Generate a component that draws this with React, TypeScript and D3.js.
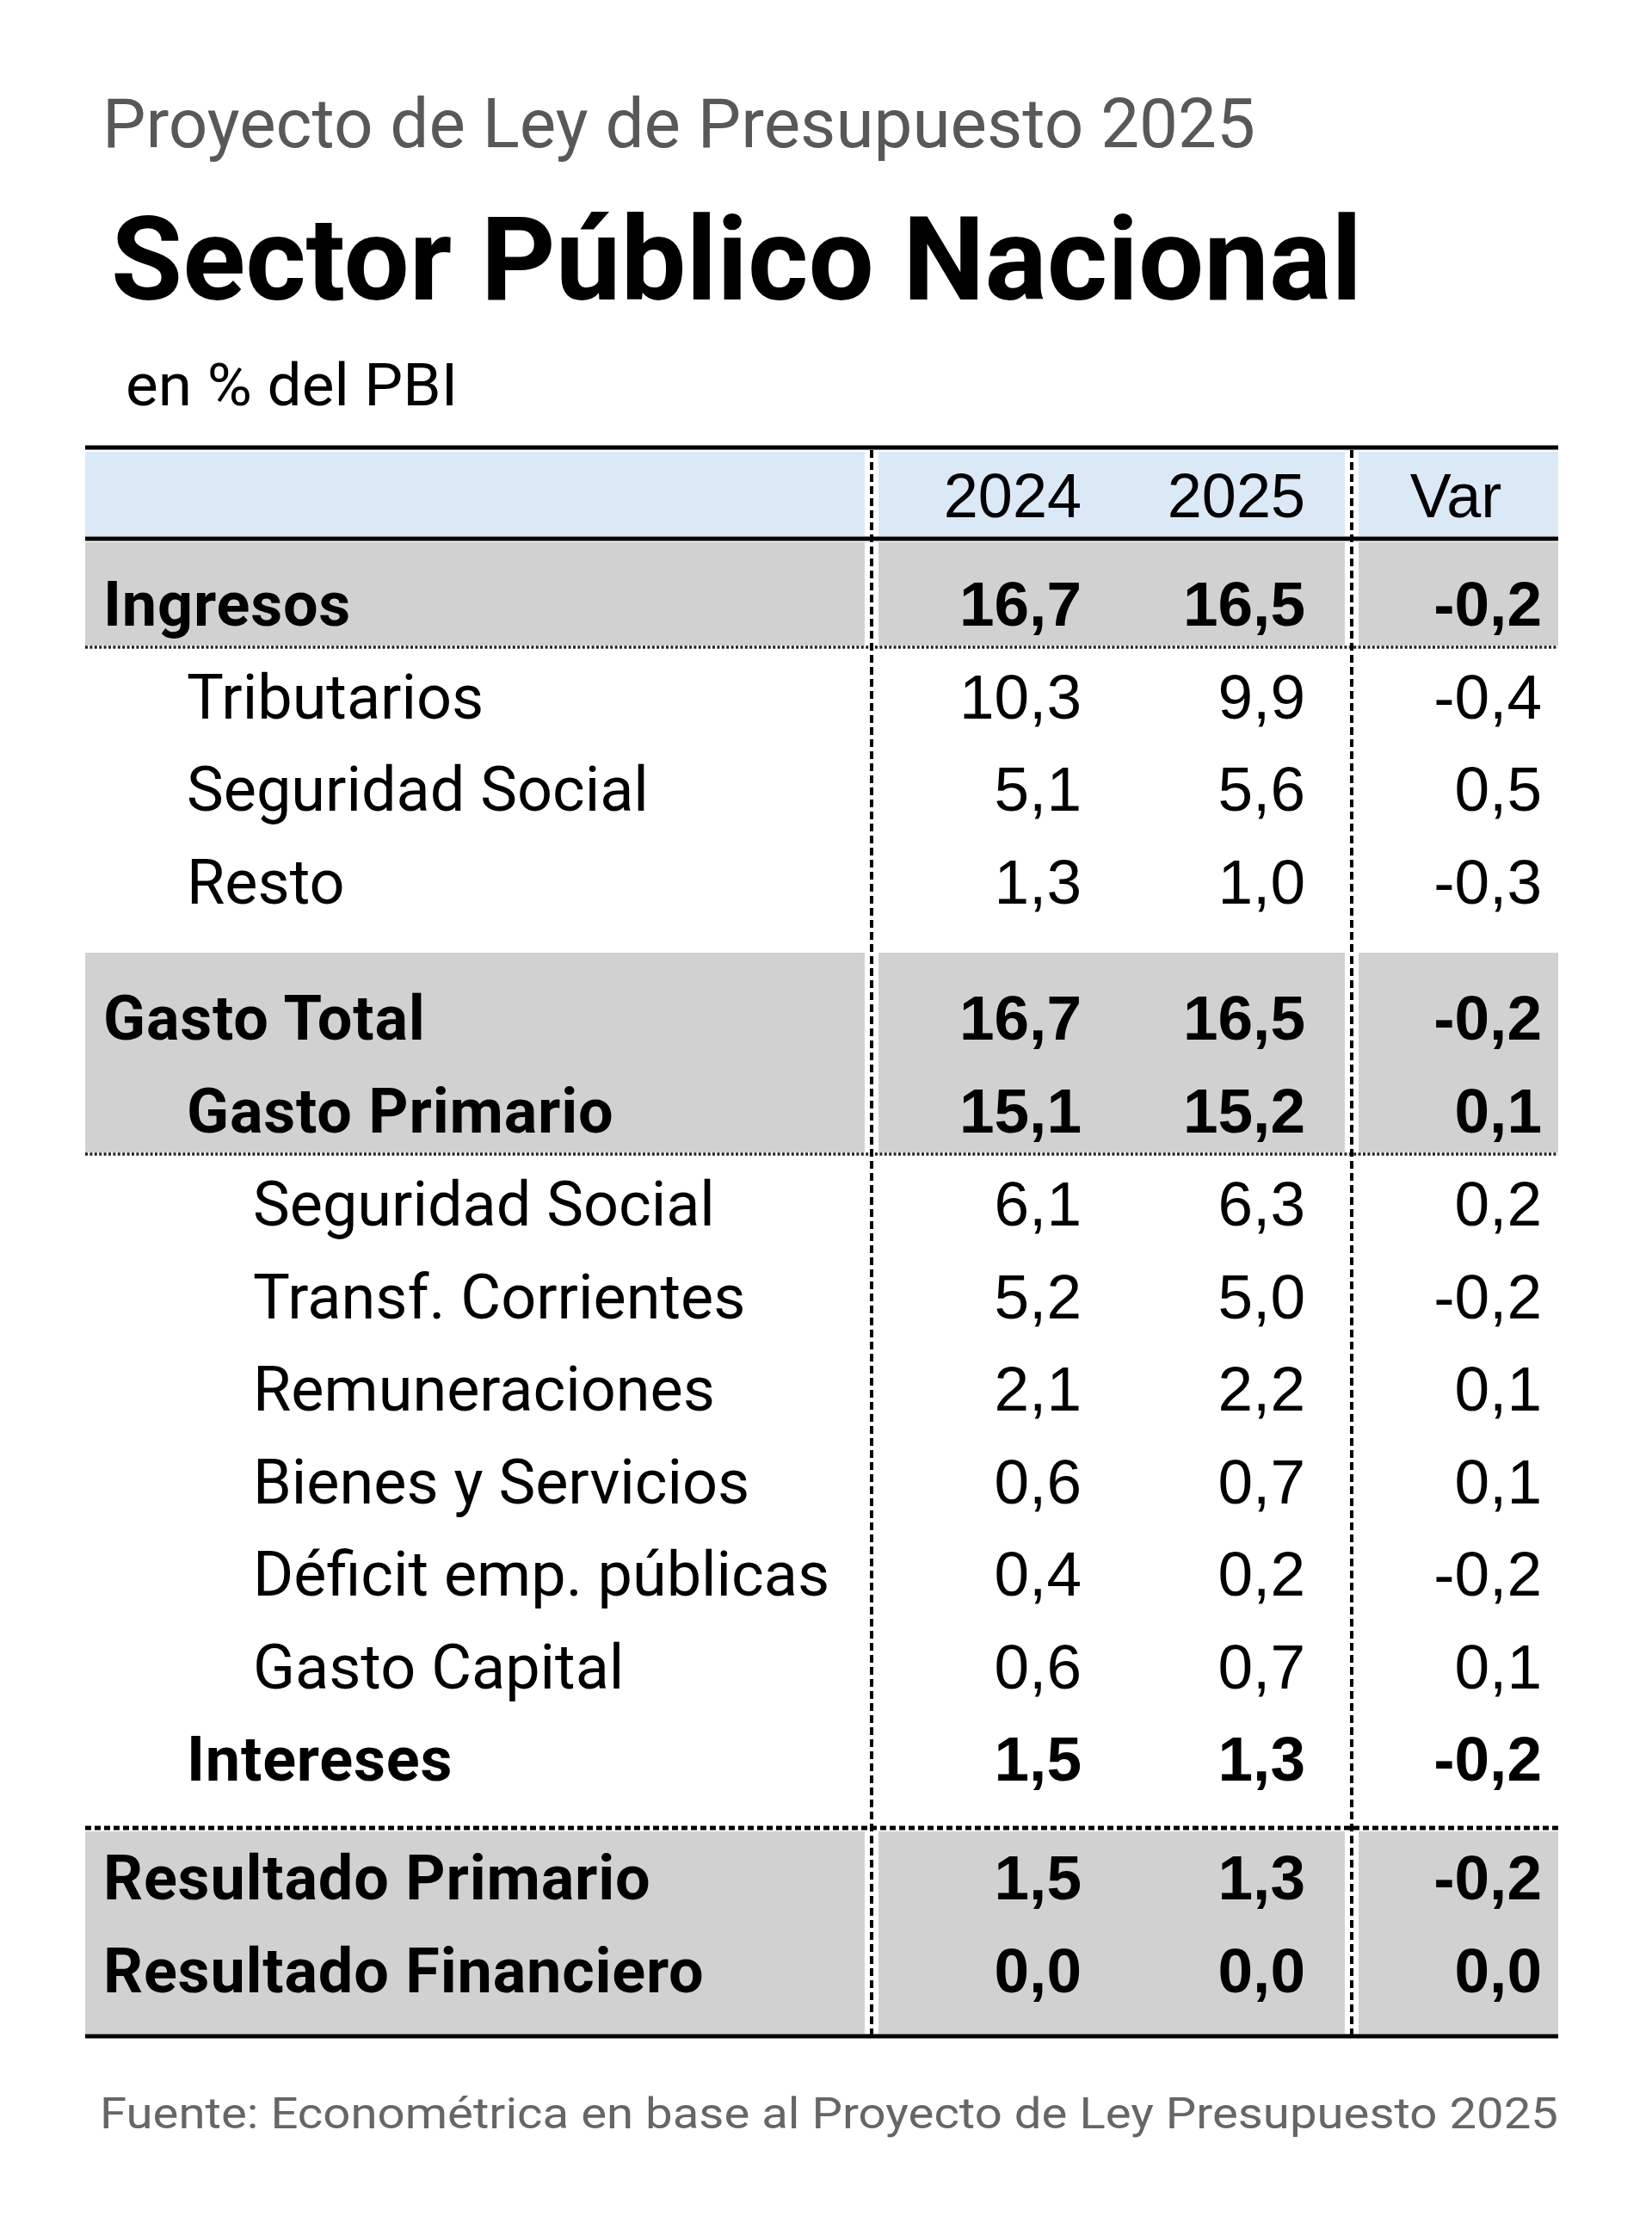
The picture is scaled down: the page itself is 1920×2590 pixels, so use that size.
import React from "react";
import * as d3 from "d3";

// ---- Data ----
const labels = [
  "Ingresos",
  "Tributarios",
  "Seguridad Social",
  "Resto",
  "Gasto Total",
  "Gasto Primario",
  "Seguridad Social",
  "Transf. Corrientes",
  "Remuneraciones",
  "Bienes y Servicios",
  "Déficit emp. públicas",
  "Gasto Capital",
  "Intereses",
  "Resultado Primario",
  "Resultado Financiero",
];
const levels = [0, 1, 1, 1, 0, 1, 2, 2, 2, 2, 2, 2, 1, 0, 0];
const boldRows = [true, false, false, false, true, true, false, false, false, false, false, false, true, true, true];
const sections = [0, 0, 0, 0, 1, 1, 2, 2, 2, 2, 2, 2, 2, 3, 3];
const values2024 = [16.7, 10.3, 5.1, 1.3, 16.7, 15.1, 6.1, 5.2, 2.1, 0.6, 0.4, 0.6, 1.5, 1.5, 0.0];
const values2025 = [16.5, 9.9, 5.6, 1.0, 16.5, 15.2, 6.3, 5.0, 2.2, 0.7, 0.2, 0.7, 1.3, 1.3, 0.0];
const valuesVar = [-0.2, -0.4, 0.5, -0.3, -0.2, 0.1, 0.2, -0.2, 0.1, 0.1, -0.2, 0.1, -0.2, -0.2, 0.0];
const columnHeaders = ["2024", "2025", "Var"];

const supTitle = "Proyecto de Ley de Presupuesto 2025";
const title = "Sector Público Nacional";
const unitLabel = "en % del PBI";
const sourceNote = "Fuente: Econométrica en base al Proyecto de Ley Presupuesto 2025";

// ---- Layout ----
const W = 1920;
const H = 2590;
const tableLeft = 99;
const tableRight = 1811;
const div1 = 1013;
const div2 = 1571;
const rowStep = 107.5;
const sectionFirstBaseline = [727, 1208, 1424, 2207];
const labelIndent = [120, 217, 294];

const locale = d3.formatLocale({
  decimal: ",",
  thousands: ".",
  grouping: [3],
  currency: ["$", ""],
  minus: "-",
});
const fmt = locale.format(".1f");

const LABEL_FONT = "Roboto, 'Noto Sans', sans-serif";
const NUM_FONT = "'Liberation Sans', Arial, sans-serif";

export default function App() {
  const baselines = labels.map((_, i) => {
    const s = sections[i];
    const first = sections.indexOf(s);
    return sectionFirstBaseline[s] + (i - first) * rowStep;
  });

  const colX = d3.scaleOrdinal<string, number>().domain(columnHeaders).range([1257, 1517, 1792]);
  const headerX = d3.scaleOrdinal<string, number>().domain(columnHeaders).range([1257, 1517, 1692]);
  const headerAnchor = (h: string) => (h === "Var" ? "middle" : "end");

  const gray = "#d1d1d1";
  const blue = "#dbe8f6";
  const gap = 8;
  const segs: [number, number][] = [
    [tableLeft, div1 - gap],
    [div1 + gap, div2 - gap],
    [div2 + gap, tableRight],
  ];

  const bands: [number, number][] = [
    [630, 750],
    [1107, 1339],
    [2128, 2363],
  ];

  const rowSeries = [values2024, values2025, valuesVar];

  return (
    <div style={{ position: "absolute", left: 0, top: 0 }}>
      <svg width={W} height={H} style={{ display: "block", background: "#fff" }}>
        <rect x={0} y={0} width={W} height={H} fill="#fff" />

        {/* Titles */}
        <text x={119} y={171} fontFamily={LABEL_FONT} fontSize={80} fill="#58585a" textLength={1340} lengthAdjust="spacingAndGlyphs">
          {supTitle}
        </text>
        <text x={129} y={348} fontFamily={LABEL_FONT} fontWeight={700} fontSize={136} fill="#000" textLength={1454} lengthAdjust="spacingAndGlyphs">
          {title}
        </text>
        <text x={146} y={471} fontFamily={LABEL_FONT} fontSize={68} fill="#000" textLength={386} lengthAdjust="spacingAndGlyphs">
          {unitLabel}
        </text>

        {/* Header band */}
        {segs.map(([a, b], i) => (
          <rect key={"hb" + i} x={a} y={525} width={b - a} height={98} fill={blue} />
        ))}

        {/* Gray bands */}
        {bands.map(([y0, y1], bi) =>
          segs.map(([a, b], i) => (
            <rect key={"gb" + bi + "-" + i} x={a} y={y0} width={b - a} height={y1 - y0} fill={gray} />
          ))
        )}

        {/* Header texts */}
        {columnHeaders.map((h) => (
          <text key={h} x={headerX(h)} y={601} fontFamily={NUM_FONT} fontSize={72} textAnchor={headerAnchor(h)} fill="#000">
            {h}
          </text>
        ))}

        {/* Row labels */}
        {labels.map((lab, i) => (
          <text
            key={"l" + i}
            x={labelIndent[levels[i]]}
            y={baselines[i]}
            fontFamily={LABEL_FONT}
            fontSize={72}
            fontWeight={boldRows[i] ? 700 : 400}
            letterSpacing={boldRows[i] ? 0.8 : 0}
            fill="#000"
          >
            {lab}
          </text>
        ))}

        {/* Values */}
        {rowSeries.map((series, ci) =>
          series.map((v, i) => (
            <text
              key={"v" + ci + "-" + i}
              x={colX(columnHeaders[ci])}
              y={baselines[i]}
              fontFamily={NUM_FONT}
              fontSize={73}
              fontWeight={boldRows[i] ? 700 : 400}
              textAnchor="end"
              fill="#000"
            >
              {fmt(v)}
            </text>
          ))
        )}

        {/* Horizontal rules */}
        <line x1={tableLeft} x2={tableRight} y1={520} y2={520} stroke="#000" strokeWidth={5} />
        <line x1={tableLeft} x2={tableRight} y1={626} y2={626} stroke="#000" strokeWidth={5} />
        <line x1={tableLeft} x2={tableRight} y1={752} y2={752} stroke="#222" strokeWidth={3.5} strokeDasharray="3 2.4" />
        <line x1={tableLeft} x2={tableRight} y1={1341} y2={1341} stroke="#222" strokeWidth={3.5} strokeDasharray="3 2.4" />
        <line x1={tableLeft} x2={tableRight} y1={2124} y2={2124} stroke="#000" strokeWidth={5} strokeDasharray="7 4" />
        <line x1={tableLeft} x2={tableRight} y1={2366} y2={2366} stroke="#000" strokeWidth={5} />

        {/* Vertical dashed dividers */}
        {[div1, div2].map((x) => (
          <line key={"d" + x} x1={x} x2={x} y1={523} y2={2364} stroke="#000" strokeWidth={4} strokeDasharray="9 5" />
        ))}

        {/* Source */}
        <text x={116} y={2473} fontFamily={LABEL_FONT} fontSize={50} fill="#666" textLength={1695} lengthAdjust="spacingAndGlyphs">
          {sourceNote}
        </text>
      </svg>
    </div>
  );
}
